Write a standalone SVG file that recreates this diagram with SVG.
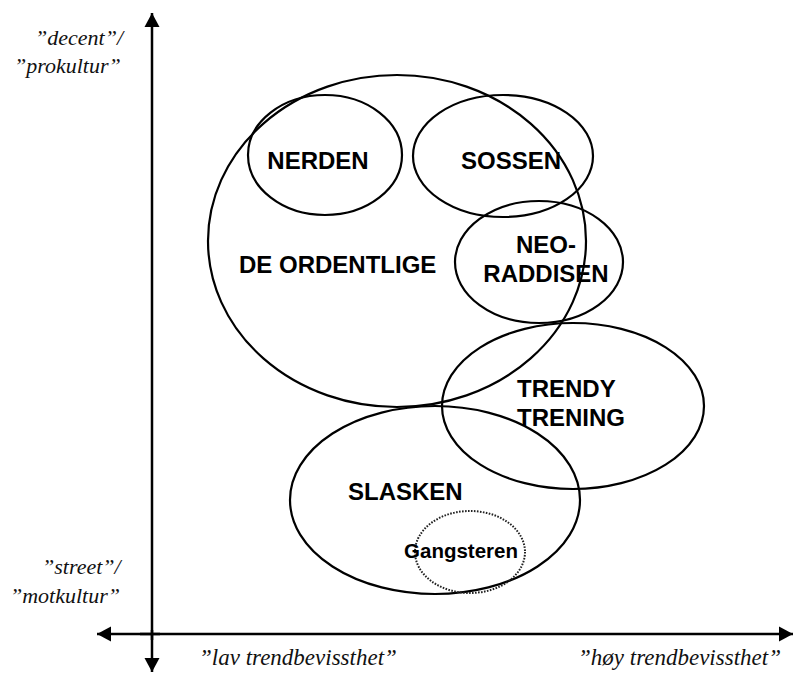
<svg xmlns="http://www.w3.org/2000/svg" width="793" height="673" viewBox="0 0 793 673">
<style>
.e{fill:none;stroke:#000;stroke-width:2.2}
.d{fill:none;stroke:#222;stroke-width:2;stroke-dasharray:1.6 1.4}
.t{font-family:"Liberation Sans",Arial,sans-serif;font-weight:bold;font-size:24px;fill:#000}
.a{font-family:"Liberation Serif","Times New Roman",serif;font-style:italic;font-size:22px;fill:#111}
.ax{stroke:#000;stroke-width:2.5;fill:none}
</style>
<defs>
<marker id="ah" markerUnits="userSpaceOnUse" markerWidth="16" markerHeight="16" refX="14" refY="8" orient="auto">
<path d="M0,0.5 L14,8 L0,15.5 Z" fill="#000"/>
</marker>
</defs>
<g id="axes">
<line class="ax" x1="152" y1="640" x2="152" y2="13" marker-end="url(#ah)"/>
<line class="ax" x1="152" y1="630" x2="152" y2="672" marker-end="url(#ah)"/>
<line class="ax" x1="160" y1="634" x2="97" y2="634" marker-end="url(#ah)"/>
<line class="ax" x1="140" y1="634" x2="793" y2="634" marker-end="url(#ah)"/>
</g>
<g id="axis-labels">
<text class="a" x="35" y="45">”decent”/</text>
<text class="a" x="14" y="73">”prokultur”</text>
<text class="a" x="42" y="574">”street”/</text>
<text class="a" x="10" y="603">”motkultur”</text>
<text class="a" x="199" y="665" style="font-size:23px">”lav trendbevissthet”</text>
<text class="a" x="578" y="665" style="font-size:23px">”høy trendbevissthet”</text>
</g>
<g id="de-ordentlige">
<ellipse class="e" cx="397" cy="241" rx="189" ry="166"/>
<text class="t" x="239" y="273">DE ORDENTLIGE</text>
</g>
<g id="nerden">
<ellipse class="e" cx="325" cy="155" rx="77" ry="60"/>
<text class="t" x="318" y="169" text-anchor="middle">NERDEN</text>
</g>
<g id="sossen">
<ellipse class="e" cx="503" cy="156" rx="90" ry="61"/>
<text class="t" x="511" y="169" text-anchor="middle">SOSSEN</text>
</g>
<g id="neo-raddisen">
<ellipse class="e" cx="539" cy="262" rx="84" ry="61"/>
<text class="t" x="546" y="253" text-anchor="middle">NEO-</text>
<text class="t" x="546" y="282" text-anchor="middle">RADDISEN</text>
</g>
<g id="trendy-trening">
<ellipse class="e" cx="573" cy="406" rx="131" ry="83"/>
<text class="t" x="517" y="397">TRENDY</text>
<text class="t" x="517" y="426">TRENING</text>
</g>
<g id="slasken">
<ellipse class="e" cx="435" cy="500" rx="145" ry="94"/>
<text class="t" x="348" y="500">SLASKEN</text>
</g>
<g id="gangsteren">
<ellipse class="d" cx="470" cy="552" rx="55" ry="41"/>
<text class="t" x="461" y="558" text-anchor="middle" style="font-size:20.5px">Gangsteren</text>
</g>
</svg>
